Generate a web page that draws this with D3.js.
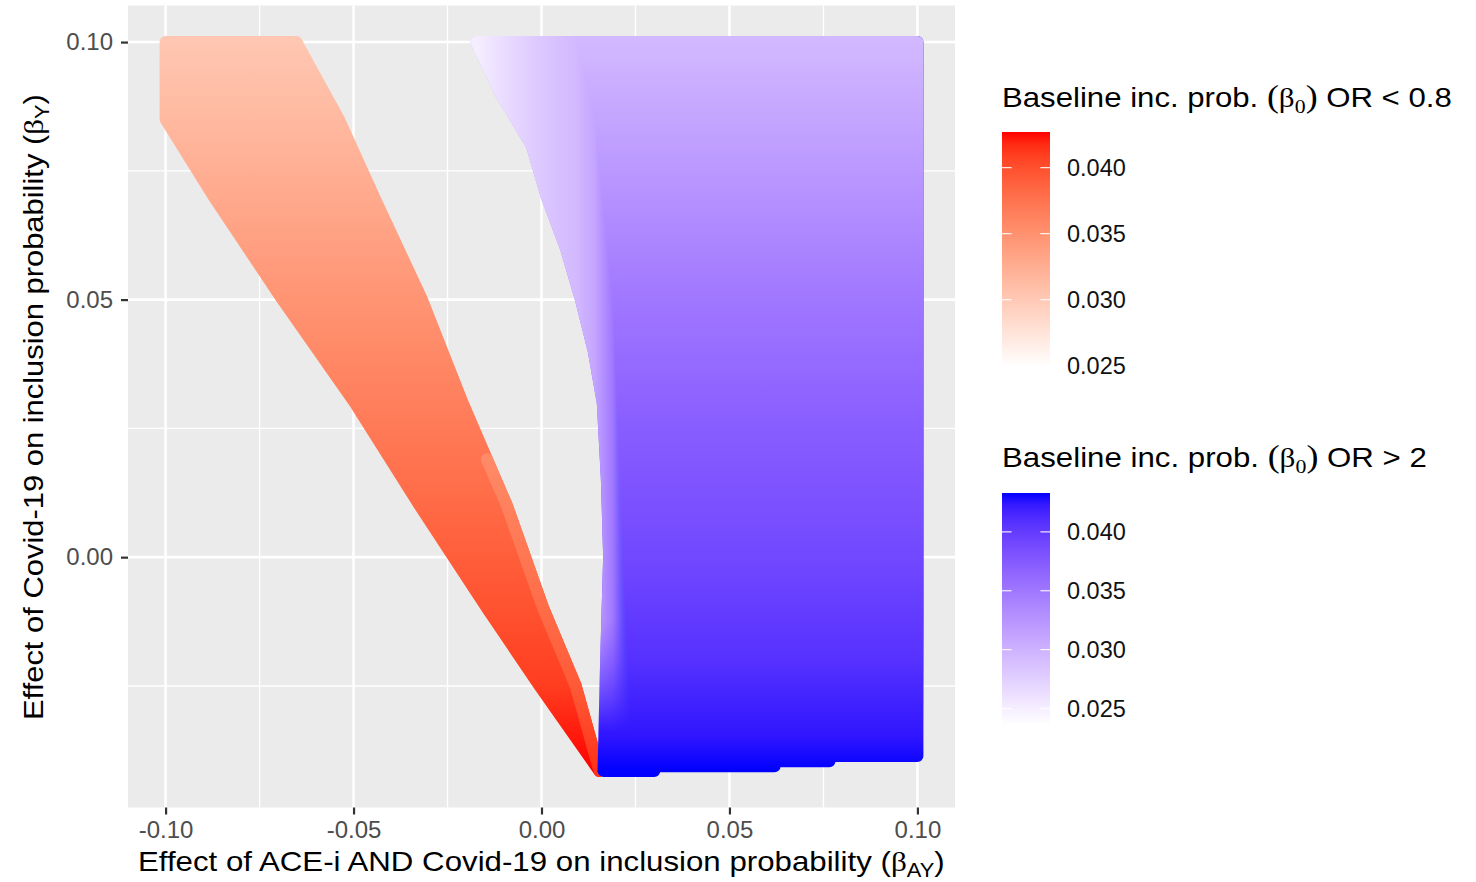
<!DOCTYPE html>
<html>
<head>
<meta charset="utf-8">
<script src="https://cdn.jsdelivr.net/npm/d3@7"></script>
<style>
  body { margin: 0; background: #fff; }
  svg { display: block; font-family: "Liberation Sans", Arial, sans-serif; }
</style>
</head>
<body>
<svg width="1476" height="882"></svg>
<script>
// Axis ticks
const xTicks = [-0.10, -0.05, 0.00, 0.05, 0.10];
const xMinor = [-0.075, -0.025, 0.025, 0.075];
const yTicks = [0.10, 0.05, 0.00];
const yMinor = [0.075, 0.025, -0.025];
const legendTicks = [0.025, 0.030, 0.035, 0.040];

// Colour limits of the two beta_0 scales
const redLimits = [0.0249, 0.0427];
const blueLimits = [0.0236, 0.0433];

// OR < 0.8 (red): for each beta_Y row, the beta_AY extent and the beta_0 shade
const redRowY     = [0.100, 0.085, 0.070, 0.050, 0.030, 0.010, -0.010, -0.025, -0.0415];
const redRowLeft  = [-0.100, -0.100, -0.0872, -0.0689, -0.0497, -0.0324, -0.0144, -0.0005, 0.0154];
const redRowRight = [-0.0652, -0.0539, -0.0446, -0.0318, -0.0210, -0.0092, 0.0005, 0.0091, 0.0154];
const redRowB0    = [0.0303, 0.0315, 0.0329, 0.0348, 0.0365, 0.0382, 0.0398, 0.0410, 0.0427];

// lighter overplotted points along the right edge of the red wedge
const redStripeY  = [0.019, 0.010, -0.010, -0.025, -0.0415];
const redStripeX  = [-0.0145, -0.0092, 0.0005, 0.0091, 0.0154];
const redStripeB0 = [0.0356, 0.0364, 0.0380, 0.0393, 0.0415];

// OR > 2 (blue): left edge per beta_Y row, stepped bottom edge, right edge at 0.10
const blueRowY    = [0.100, 0.090, 0.080, 0.070, 0.060, 0.050, 0.040, 0.030, 0.015, 0.000, -0.020, -0.0415];
const blueRowLeft = [-0.0173, -0.0108, -0.0026, 0.0014, 0.0065, 0.0105, 0.0139, 0.0163, 0.0174, 0.0180, 0.0172, 0.0165];
const blueBottomX = [0.0165, 0.030, 0.062, 0.0766, 0.100];
const blueBottomY = [-0.0415, -0.0406, -0.0396, -0.0386];
const blueRight = 0.100;
// beta_0 shade by row (interior) and near the left edge (by beta_AY)
const blueB0Y     = [0.100, 0.075, 0.050, 0.025, 0.000, -0.020, -0.035, -0.0415];
const blueB0      = [0.0295, 0.0322, 0.0350, 0.0372, 0.0390, 0.0408, 0.0425, 0.0433];
const blueEdgeX   = [-0.0173, -0.010, -0.003, 0.003, 0.009, 0.014, 0.019, 0.026];
const blueEdgeB0  = [0.0250, 0.0265, 0.0277, 0.0286, 0.0294, 0.0310, 0.0350, 0.0433];

// Texts
const xTitle = [{ text: "Effect of ACE-i AND Covid-19 on inclusion probability " }, { text: "(" },
  { text: "β", serif: true }, { text: "AY", sub: true }, { text: ")", after: true }];
const yTitle = [{ text: "Effect of Covid-19 on inclusion probability " }, { text: "(" },
  { text: "β", serif: true }, { text: "Y", sub: true }, { text: ")", after: true }];
const legendTitle = op => [{ text: "Baseline inc. prob. " }, { text: "(", serif: true, scale: 1.15 },
  { text: "β", serif: true }, { text: "0", serif: true, sub: true },
  { text: ")", serif: true, scale: 1.15, after: true }, { text: " OR " + op }];

const svg = d3.select("svg");
const defs = svg.append("defs");

// Scales
const xScale = d3.scaleLinear().domain([-0.11, 0.11]).range([128, 955]);
const yScale = d3.scaleLinear().domain([-0.0486, 0.1071]).range([807.5, 5.5]);
const redColor = d3.scaleLinear().domain(redLimits).range(["#ffffff", "#ff0000"]).interpolate(d3.interpolateLab);
const blueColor = d3.scaleLinear().domain(blueLimits).range(["#ffffff", "#0000ff"]).interpolate(d3.interpolateLab);

const addGradient = (id, vertical, stops) => {
  const from = stops[0].pos, to = stops[stops.length - 1].pos;
  const gr = defs.append("linearGradient").attr("id", id).attr("gradientUnits", "userSpaceOnUse")
    .attr("x1", vertical ? 0 : from).attr("x2", vertical ? 0 : to)
    .attr("y1", vertical ? from : 0).attr("y2", vertical ? to : 0);
  gr.selectAll("stop").data(stops).enter().append("stop")
    .attr("offset", d => (d.pos - from) / (to - from))
    .attr("stop-color", d => d.color);
};

// Panel and grid
const [px0, px1] = xScale.range();
const [py1, py0] = yScale.range();
svg.append("rect").attr("x", px0).attr("y", py0).attr("width", px1 - px0).attr("height", py1 - py0).attr("fill", "#ebebeb");
const grid = svg.append("g").attr("stroke", "#fff");
grid.selectAll(".vminor").data(xMinor).enter().append("line")
  .attr("x1", d => xScale(d)).attr("x2", d => xScale(d)).attr("y1", py0).attr("y2", py1).attr("stroke-width", 1.4);
grid.selectAll(".hminor").data(yMinor).enter().append("line")
  .attr("y1", d => yScale(d)).attr("y2", d => yScale(d)).attr("x1", px0).attr("x2", px1).attr("stroke-width", 1.4);
grid.selectAll(".vmajor").data(xTicks).enter().append("line")
  .attr("x1", d => xScale(d)).attr("x2", d => xScale(d)).attr("y1", py0).attr("y2", py1).attr("stroke-width", 2.6);
grid.selectAll(".hmajor").data(yTicks).enter().append("line")
  .attr("y1", d => yScale(d)).attr("y2", d => yScale(d)).attr("x1", px0).attr("x2", px1).attr("stroke-width", 2.6);

const dotRadius = 6;
const line = d3.line();

// Red region
addGradient("redFill", true, redRowY.map((y, i) => ({ pos: yScale(y), color: redColor(redRowB0[i]) })));
const redPts = redRowY.map((y, i) => [xScale(redRowLeft[i]), yScale(y)])
  .concat(redRowY.map((y, i) => [xScale(redRowRight[i]), yScale(y)]).reverse());
svg.append("path").attr("d", line(redPts) + "Z")
  .attr("fill", "url(#redFill)").attr("stroke", "url(#redFill)")
  .attr("stroke-width", dotRadius * 2).attr("stroke-linejoin", "round");

addGradient("redStripe", true, redStripeY.map((y, i) => ({ pos: yScale(y), color: redColor(redStripeB0[i]) })));
svg.append("path").attr("d", line(redStripeY.map((y, i) => [xScale(redStripeX[i]), yScale(y)])))
  .attr("fill", "none").attr("stroke", "url(#redStripe)")
  .attr("stroke-width", dotRadius * 2).attr("stroke-linejoin", "round").attr("stroke-linecap", "round");

// Blue region
addGradient("blueFill", true, blueB0Y.map((y, i) => ({ pos: yScale(y), color: blueColor(blueB0[i]) })));
addGradient("blueEdge", false, blueEdgeX.map((x, i) => ({ pos: xScale(x), color: blueColor(blueEdgeB0[i]) })));
addGradient("edgeFade", true, [{ pos: yScale(0.1), color: "#fff" }, { pos: yScale(-0.012), color: "#fff" },
  { pos: yScale(-0.034), color: "#000" }]);
defs.append("mask").attr("id", "edgeMask").attr("maskUnits", "userSpaceOnUse")
  .attr("x", 0).attr("y", 0).attr("width", 1476).attr("height", 882)
  .append("rect").attr("width", 1476).attr("height", 882).attr("fill", "url(#edgeFade)");

const bluePts = blueRowY.map((y, i) => [xScale(blueRowLeft[i]), yScale(y)]);
blueBottomY.forEach((y, i) => {
  bluePts.push([xScale(blueBottomX[i]), yScale(y)]);
  bluePts.push([xScale(blueBottomX[i + 1]), yScale(y)]);
});
bluePts.push([xScale(blueRight), yScale(blueRowY[0])]);
const blueD = line(bluePts) + "Z";
const blueG = svg.append("g").style("isolation", "isolate");
blueG.append("path").attr("d", blueD)
  .attr("fill", "url(#blueFill)").attr("stroke", "url(#blueFill)")
  .attr("stroke-width", dotRadius * 2).attr("stroke-linejoin", "round");
blueG.append("path").attr("d", blueD)
  .attr("fill", "url(#blueEdge)").attr("stroke", "url(#blueEdge)")
  .attr("stroke-width", dotRadius * 2).attr("stroke-linejoin", "round")
  .attr("mask", "url(#edgeMask)").style("mix-blend-mode", "lighten");

// Axes
const styleAxis = g => {
  g.select(".domain").remove();
  g.attr("font-family", null).attr("font-size", 24);
  g.selectAll(".tick line").attr("stroke", "#333").attr("stroke-width", 2.2);
  g.selectAll(".tick text").attr("fill", "#4d4d4d");
};
svg.append("g").attr("transform", `translate(0,${py1})`)
  .call(d3.axisBottom(xScale).tickValues(xTicks).tickFormat(d => d.toFixed(2)).tickSize(7).tickPadding(6))
  .call(styleAxis);
svg.append("g").attr("transform", `translate(${px0},0)`)
  .call(d3.axisLeft(yScale).tickValues(yTicks).tickFormat(d => d.toFixed(2)).tickSize(7).tickPadding(8))
  .call(styleAxis);

// Rich text helper (serif beta, subscripts)
const richText = (parent, parts, size) => {
  const t = parent.append("text").attr("font-size", size).attr("fill", "#000");
  parts.forEach(p => {
    const s = t.append("tspan").text(p.text);
    if (p.serif) s.attr("font-family", "'Liberation Serif','DejaVu Serif',serif");
    if (p.scale) s.attr("font-size", size * p.scale);
    if (p.sub) s.attr("font-size", size * 0.7).attr("dy", size * 0.22);
    if (p.after) s.attr("dy", -size * 0.22);
  });
  return t;
};
const fitWidth = (t, x, y, width, rotate) => {
  const w = t.node().getBBox().width;
  t.attr("transform", `translate(${x},${y})${rotate ? " rotate(-90)" : ""} scale(${width / w},1)`);
};

fitWidth(richText(svg, xTitle, 28), 138, 871, 807, false);
fitWidth(richText(svg, yTitle, 28), 43, 720, 626, true);

// Legends
const legends = [
  { title: legendTitle("< 0.8"), color: redColor, limits: redLimits, titleY: 107, titleW: 450, top: 132, bottom: 367 },
  { title: legendTitle("> 2"), color: blueColor, limits: blueLimits, titleY: 467, titleW: 425, top: 493, bottom: 725 }
];
const barX = 1002, barW = 48;
legends.forEach((lg, k) => {
  fitWidth(richText(svg, lg.title, 28), barX, lg.titleY, lg.titleW, false);
  const scale = d3.scaleLinear().domain(lg.limits).range([lg.bottom, lg.top]);
  const steps = d3.range(0, 1.0001, 0.05);
  addGradient("legend" + k, true, steps.map(s => {
    const v = lg.limits[1] - s * (lg.limits[1] - lg.limits[0]);
    return { pos: scale(v), color: lg.color(v) };
  }));
  svg.append("rect").attr("x", barX).attr("y", lg.top).attr("width", barW).attr("height", lg.bottom - lg.top)
    .attr("fill", `url(#legend${k})`);
  const tk = svg.append("g");
  legendTicks.forEach(v => {
    tk.append("line").attr("x1", barX).attr("x2", barX + 9.6).attr("y1", scale(v)).attr("y2", scale(v))
      .attr("stroke", "#fff").attr("stroke-width", 1.2).attr("stroke-opacity", 0.9);
    tk.append("line").attr("x1", barX + barW - 9.6).attr("x2", barX + barW).attr("y1", scale(v)).attr("y2", scale(v))
      .attr("stroke", "#fff").attr("stroke-width", 1.2).attr("stroke-opacity", 0.9);
    tk.append("text").attr("x", barX + 65).attr("y", scale(v)).attr("dy", "0.35em")
      .attr("font-size", 23.5).attr("fill", "#111").text(v.toFixed(3));
  });
});
</script>
</body>
</html>
